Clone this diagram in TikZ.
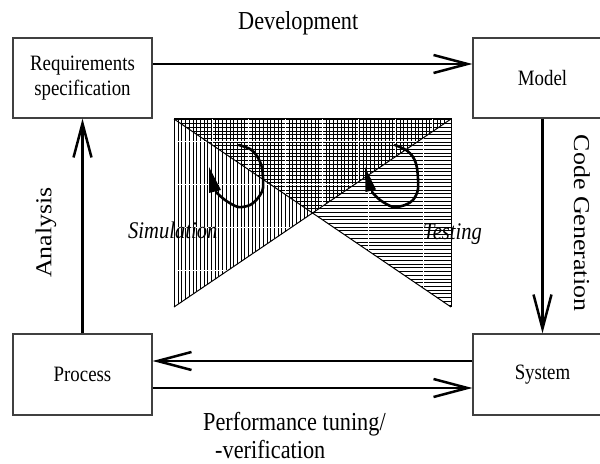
\documentclass[tikz,border=0pt]{standalone}
\usepackage{fontspec}
\setmainfont{Liberation Serif}
\usetikzlibrary{arrows.meta}
\newcommand\sqz[1]{\scalebox{0.86}[1]{#1}}
\newcommand\sqv[1]{\scalebox{1}[0.88]{#1}}
\begin{document}
\begin{tikzpicture}[x=1bp,y=-1bp,
  box/.style={draw=black!75, line width=1.2bp, minimum width=139bp, minimum height=80bp, inner sep=0pt, align=center, font=\fontsize{22}{25}\selectfont},
  conn/.style={line width=2.5bp, -{Straight Barb[length=34bp,width=18bp]}},
  lbl/.style={inner sep=0pt, font=\fontsize{26}{30}\selectfont},
  ital/.style={inner sep=0pt, font=\fontsize{24}{28}\selectfont\itshape},
  hatch/.style={line width=1bp},
  gap/.style={white, line width=0.9bp},
  edge/.style={line width=1bp},
  loopline/.style={line width=2.6bp, line cap=round, line join=round}
]
\useasboundingbox (0,0) rectangle (600,464);
\clip (0,0) rectangle (600,464);

% hatched bow-tie
\begin{scope}
  \clip (174,119) -- (313,213) -- (174,307) -- cycle;
  \foreach \i in {0,...,40} \draw[hatch] ({174.5+\i*3.7},119) -- ({174.5+\i*3.7},307);
  \foreach \y in {141,184,227,270} \draw[gap] (174,\y) -- (320,\y);
\end{scope}
\begin{scope}
  \clip (174,119) -- (451,119) -- (313,213) -- cycle;
  \foreach \i in {0,...,76} \draw[hatch] ({174.5+\i*3.7},119) -- ({174.5+\i*3.7},215);
  \foreach \j in {0,...,26} \draw[hatch] (174,{120+\j*3.7}) -- (451,{120+\j*3.7});
  \foreach \x in {212,248,285,322,358,395,432} \draw[gap] (\x,119) -- (\x,215);
  \foreach \y in {141,184} \draw[gap] (174,\y) -- (451,\y);
\end{scope}
\begin{scope}
  \clip (451,119) -- (451,307) -- (313,213) -- cycle;
  \foreach \j in {0,...,51} \draw[hatch] (310,{120+\j*3.7}) -- (451,{120+\j*3.7});
  \foreach \x in {368,423} \draw[gap] (\x,119) -- (\x,307);
\end{scope}
\draw[edge] (174,307) -- (174,119) -- (451,119) -- (451,307);
\draw[edge] (174,119) -- (451,307);
\draw[edge] (174,307) -- (451,119);

% loops
\draw[loopline] plot[smooth] coordinates {(239,145) (250,149) (257,156) (262,168) (263,188) (258,198) (250,205) (238,207) (225,200) (216,192)};
\fill (209,167) -- (209,193) -- (221,190) -- cycle;
\draw[loopline] plot[smooth] coordinates {(395,145) (406,150) (413,157) (417,168) (418,189) (413,200) (405,205) (393,207) (380,200) (372,192)};
\fill (365,167) -- (365.5,192) -- (376,189.5) -- cycle;

\node[ital, anchor=base west] (sim) at (128,239) {\sqz{Simulation}};
\node[ital, anchor=base west] (tst) at (423,240) {\sqz{Testing}};

% boxes
\node[box] (req) at (82.5,78) {\sqz{Requirements}\\\sqz{specification}};
\node[box] (model) at (542.5,78) {\sqz{Model}};
\node[box, minimum height=81bp] (proc) at (82.5,374.5) {\sqz{Process}};
\node[box, minimum height=81bp] (sys) at (542.5,374.5) {\sqz{System}};

% connectors
\draw[conn] ([yshift=14bp]req.east) -- ([yshift=14bp]model.west);
\draw[conn] (model.south) -- (sys.north);
\draw[conn] ([yshift=13.5bp]sys.west) -- ([yshift=13.5bp]proc.east);
\draw[conn] ([yshift=-13.5bp]proc.east) -- ([yshift=-13.5bp]sys.west);
\draw[conn] (proc.north) -- (req.south);

% labels
\node[lbl, anchor=base west] (dev) at (238,30) {\sqz{Development}};
\node[lbl, rotate=90] (ana) at (46,232.5) {\sqv{Analysis}};
\node[lbl, rotate=-90] (cg) at (582,223) {\sqv{Code Generation}};
\node[lbl, anchor=base west] (perf) at (203,430) {\sqz{Performance tuning/}};
\node[lbl, anchor=base west] (ver) at (215,458) {\sqz{-verification}};
\end{tikzpicture}
\end{document}
